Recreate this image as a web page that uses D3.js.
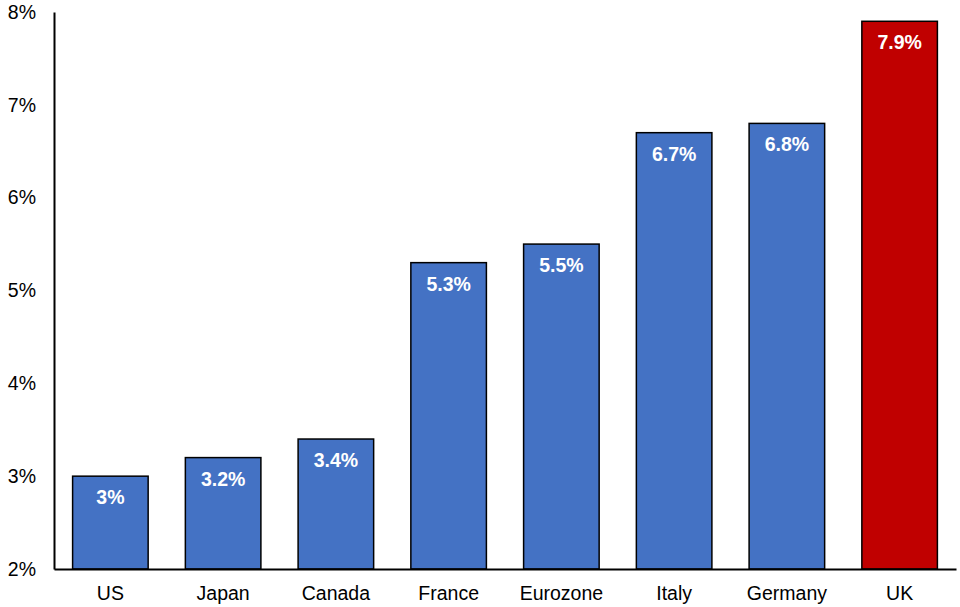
<!DOCTYPE html>
<html><head><meta charset="utf-8">
<script src="https://cdn.jsdelivr.net/npm/d3@7"></script>
<style>body{margin:0;background:#fff}svg{display:block}text{font-family:"Liberation Sans",Arial,sans-serif}</style>
</head><body>
<svg id="c" width="960" height="607"></svg>
<script>
const categories = ["US","Japan","Canada","France","Eurozone","Italy","Germany","UK"];
const values = [3.0,3.2,3.4,5.3,5.5,6.7,6.8,7.9];
const valueLabels = ["3%","3.2%","3.4%","5.3%","5.5%","6.7%","6.8%","7.9%"];
const highlight = ["UK"];
const yTicks = [2,3,4,5,6,7,8];

const svg = d3.select("#c");
const m = {left:54, right:4, top:12, bottom:38};
const W = 960, H = 607;
const x = d3.scaleBand().domain(categories).range([m.left, W - m.right]).paddingInner(0.33).paddingOuter(0.165);
const y = d3.scaleLinear().domain([2,8]).range([H - m.bottom, m.top]);

const g = svg.append("g");
g.selectAll("rect.bar").data(categories).join("rect")
  .attr("class","bar")
  .attr("x", d => x(d))
  .attr("width", x.bandwidth())
  .attr("y", (d,i) => y(values[i]))
  .attr("height", (d,i) => y(2) - y(values[i]))
  .attr("fill", d => highlight.includes(d) ? "#C00000" : "#4472C4")
  .attr("stroke", "#000").attr("stroke-width", 1.5);

g.selectAll("text.val").data(categories).join("text")
  .attr("class","val")
  .attr("x", d => x(d) + x.bandwidth()/2)
  .attr("y", (d,i) => y(values[i]) + 28)
  .attr("text-anchor","middle")
  .attr("fill","#fff").attr("font-weight","bold").attr("font-size", 19.5)
  .text((d,i) => valueLabels[i]);

const yAxis = d3.axisLeft(y).tickValues(yTicks).tickFormat(d => d + "%").tickSize(0).tickPadding(18);
const ya = svg.append("g").attr("transform", `translate(${m.left},0)`).call(yAxis);
ya.select(".domain").attr("stroke","#000").attr("stroke-width",2);
ya.selectAll("text").attr("font-size",19.5).attr("fill","#000").attr("font-family","Liberation Sans, Arial, sans-serif");

const xAxis = d3.axisBottom(x).tickSize(0).tickPadding(17);
const xa = svg.append("g").attr("transform", `translate(0,${y(2)})`).call(xAxis);
xa.select(".domain").attr("stroke","#000").attr("stroke-width",2);
xa.selectAll("text").attr("font-size",19.5).attr("fill","#000").attr("font-family","Liberation Sans, Arial, sans-serif");
</script>
</body></html>
